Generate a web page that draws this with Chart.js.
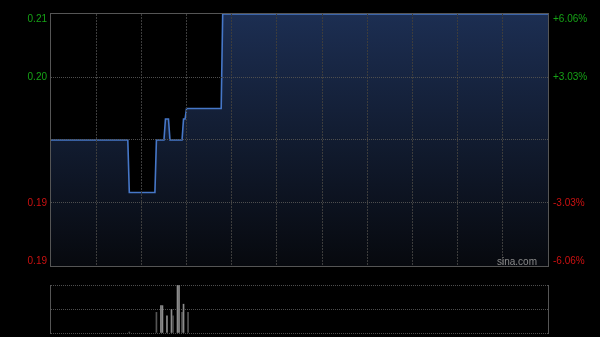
<!DOCTYPE html>
<html>
<head>
<meta charset="utf-8">
<script src="https://cdn.jsdelivr.net/npm/chart.js@4.4.1/dist/chart.umd.min.js"></script>
<style>
  html, body { margin: 0; padding: 0; background: #000; }
  #wrap { position: relative; width: 600px; height: 337px; overflow: hidden; }
  #price-chart { position: absolute; left: 0; top: 0; }
  #vol-chart { position: absolute; left: 0; top: 270px; }
</style>
</head>
<body>
<div id="wrap">
  <canvas id="price-chart" width="600" height="270"></canvas>
  <canvas id="vol-chart" width="600" height="67"></canvas>
</div>
<script>
'use strict';

// ─── Data (minute index from 9:30, 330 = close) ───────────
const prevClose = 0.198;
const priceMinutes = [0, 51, 52, 69, 70, 75, 76, 78, 79, 87, 88, 89, 90, 113, 114, 330];
const prices = [0.198, 0.198, 0.193, 0.193, 0.198, 0.198, 0.200, 0.200, 0.198, 0.198, 0.200, 0.200, 0.201, 0.201, 0.210, 0.210];

const yTicks = [0.210, 0.204, 0.198, 0.192, 0.186];
const priceLabels = ['0.21', '0.20', '', '0.19', '0.19'];
const pctLabels = ['+6.06%', '+3.03%', '', '-3.03%', '-6.06%'];

const volMinutes = [52, 70, 73, 74, 77, 80, 81, 84, 85, 87, 88, 91];
const volumes = [2, 43, 57, 57, 36, 49, 36, 99, 99, 43, 60, 43];
const volUp = [false, false, true, true, true, true, false, true, true, false, true, false];

// ─── Styles ──────────────────────────────────────────────
const FONT = "10px Arial, 'Liberation Sans', sans-serif";
const GREEN = '#16a316';
const RED = '#cc1111';
const FRAME = '#555555';
const GRID_H = '#4e4e4e';
const GRID_V = '#3c3c3c';

// frame around the plot area
const framePlugin = {
  id: 'frame',
  afterDraw(chart, args, opts) {
    const { ctx: c, chartArea: { top, bottom, left, right } } = chart;
    c.save();
    c.strokeStyle = FRAME;
    c.lineWidth = 1;
    if (opts.full) {
      c.strokeRect(left - 0.5, top - 0.5, right - left + 1, bottom - top + 1);
    } else {
      c.beginPath();
      c.moveTo(left - 0.5, top); c.lineTo(left - 0.5, bottom + 1);
      c.moveTo(right + 0.5, top); c.lineTo(right + 0.5, bottom + 1);
      c.stroke();
    }
    c.restore();
  },
};

// price / percent labels on both sides + watermark
const sideLabels = {
  id: 'sideLabels',
  afterDraw(chart) {
    const { ctx: c, chartArea: { top, bottom, left, right }, scales: { y } } = chart;
    c.save();
    c.font = FONT;
    c.textBaseline = 'middle';
    yTicks.forEach((v, i) => {
      const py = Math.min(Math.max(y.getPixelForValue(v), top + 5), bottom - 5);
      c.fillStyle = v > prevClose ? GREEN : RED;
      c.textAlign = 'right';
      c.fillText(priceLabels[i], left - 4, py);
      c.textAlign = 'left';
      c.fillText(pctLabels[i], right + 5, py);
    });
    c.fillStyle = '#8a8a8a';
    c.textAlign = 'right';
    c.fillText('sina.com', right - 11, bottom - 4);
    c.restore();
  },
};

const hideEdges = (color) => (c) =>
  (c.index === 0 || c.index === c.scale.ticks.length - 1) ? 'rgba(0,0,0,0)' : color;

// ─── Price chart ─────────────────────────────────────────
new Chart(document.getElementById('price-chart'), {
  type: 'line',
  data: {
    datasets: [{
      data: priceMinutes.map((m, i) => ({ x: m, y: prices[i] })),
      borderColor: '#4677c8',
      borderWidth: 1.6,
      pointRadius: 0,
      tension: 0,
      fill: 'start',
      backgroundColor: (c) => {
        const area = c.chart.chartArea;
        if (!area) return 'rgba(28,46,82,0.9)';
        const g = c.chart.ctx.createLinearGradient(0, area.top, 0, area.bottom);
        g.addColorStop(0, '#1c2e52');
        g.addColorStop(1, '#07090e');
        return g;
      },
    }],
  },
  options: {
    responsive: false,
    animation: false,
    layout: { padding: { left: 51, right: 52, top: 14, bottom: 4 } },
    scales: {
      x: {
        type: 'linear', min: 0, max: 330,
        ticks: { display: false, stepSize: 30 },
        grid: { color: hideEdges(GRID_V), drawTicks: false, lineWidth: 1, z: 1 },
        border: { display: false, dash: [2, 1] },
      },
      y: {
        type: 'linear', min: 0.186, max: 0.210,
        afterBuildTicks: (s) => { s.ticks = yTicks.map(v => ({ value: v })); },
        ticks: { display: false },
        grid: { color: hideEdges(GRID_H), drawTicks: false, lineWidth: 1, z: 1 },
        border: { display: false, dash: [1, 1] },
      },
    },
    plugins: {
      legend: { display: false },
      tooltip: { enabled: false },
      frame: { full: true },
    },
  },
  plugins: [framePlugin, sideLabels],
});

// ─── Volume chart ────────────────────────────────────────
new Chart(document.getElementById('vol-chart'), {
  type: 'bar',
  data: {
    datasets: [{
      data: volMinutes.map((m, i) => ({ x: m, y: volumes[i] })),
      backgroundColor: volUp.map(u => u ? '#8c8c8c' : '#555555'),
      barThickness: 1,
      borderWidth: 0,
    }],
  },
  options: {
    responsive: false,
    animation: false,
    layout: { padding: { left: 51, right: 52, top: 15, bottom: 4 } },
    scales: {
      x: {
        type: 'linear', min: 0, max: 330,
        offset: false,
        ticks: { display: false },
        grid: { display: false, drawTicks: false },
        border: { display: false },
      },
      y: {
        min: 0, max: 100,
        afterBuildTicks: (s) => { s.ticks = [0, 50, 100].map(v => ({ value: v })); },
        ticks: { display: false },
        grid: { color: GRID_H, drawTicks: false, lineWidth: 1 },
        border: { display: false, dash: [1, 1] },
      },
    },
    plugins: {
      legend: { display: false },
      tooltip: { enabled: false },
      frame: { full: false },
    },
  },
  plugins: [framePlugin],
});
</script>
</body>
</html>
